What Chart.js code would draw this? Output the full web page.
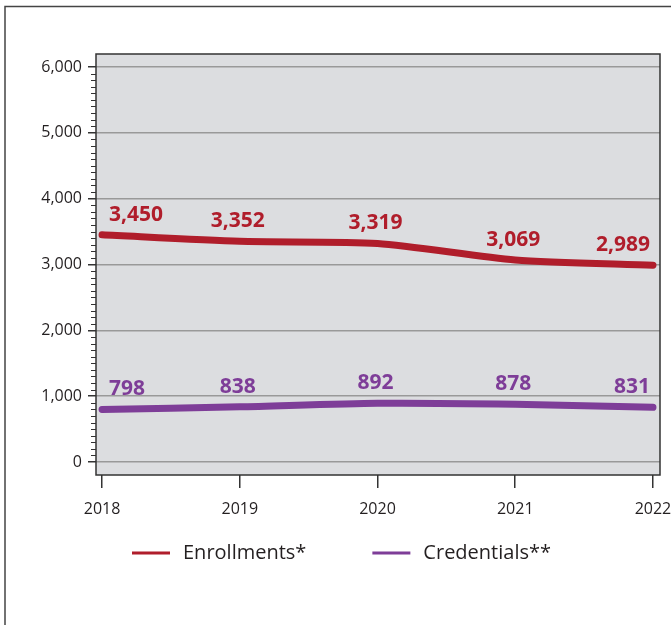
<!DOCTYPE html>
<html>
<head>
<meta charset="utf-8">
<script src="https://cdn.jsdelivr.net/npm/chart.js@4/dist/chart.umd.min.js"></script>
<style>
  html, body { margin: 0; padding: 0; background: #fff; }
  #wrap { position: relative; width: 671px; height: 625px; }
</style>
</head>
<body>
<div id="wrap"><canvas id="chart" width="671" height="625"></canvas></div>
<script>
// data
const years = [2018, 2019, 2020, 2021, 2022];
const enrollments = [3450, 3352, 3319, 3069, 2989];
const credentials = [798, 838, 892, 878, 831];
const yTicks = [0, 1000, 2000, 3000, 4000, 5000, 6000];
const seriesNames = ["Enrollments*", "Credentials**"];

const RED = "#b01d2b";
const PURPLE = "#7e3d98";
const FONT = "'Open Sans', 'Noto Sans', sans-serif";
const INK = "#231f20";

function toPoints(vals) {
  return years.map((y, i) => ({ x: y, y: vals[i] }));
}

// outer frame, plot background, plot border, minor ticks, value labels, legend
const decor = {
  id: "decor",
  beforeDraw(chart) {
    const ctx = chart.ctx;
    const a = chart.chartArea;
    ctx.save();
    ctx.strokeStyle = "#444";
    ctx.lineWidth = 1.5;
    ctx.beginPath();
    ctx.moveTo(5, 625);
    ctx.lineTo(5, 6.5);
    ctx.lineTo(671, 6.5);
    ctx.stroke();
    ctx.fillStyle = "#dcdde0";
    ctx.fillRect(a.left, a.top, a.right - a.left, a.bottom - a.top);
    ctx.restore();
  },
  afterDatasetsDraw(chart) {
    const ctx = chart.ctx;
    const a = chart.chartArea;
    const ys = chart.scales.y;
    ctx.save();
    // plot border
    ctx.strokeStyle = "#333";
    ctx.lineWidth = 1.5;
    ctx.strokeRect(a.left, a.top, a.right - a.left, a.bottom - a.top);
    // minor ticks
    ctx.lineWidth = 1;
    ctx.beginPath();
    for (let v = 100; v < 6000; v += 100) {
      if (v % 1000 === 0) continue;
      const py = Math.round(ys.getPixelForValue(v)) + 0.5;
      ctx.moveTo(a.left - 5, py);
      ctx.lineTo(a.left, py);
    }
    ctx.stroke();

    // value labels
    ctx.font = "bold 21px " + FONT;
    ctx.textBaseline = "middle";
    chart.data.datasets.forEach((ds, di) => {
      const meta = chart.getDatasetMeta(di);
      ctx.fillStyle = ds.borderColor;
      meta.data.forEach((pt, i) => {
        const txt = ds.data[i].y.toLocaleString("en-US");
        let x = pt.x - 2;
        ctx.textAlign = "center";
        if (i === 0) { ctx.textAlign = "left"; x = pt.x + 7; }
        if (i === meta.data.length - 1) { ctx.textAlign = "right"; x = pt.x - 3; }
        ctx.fillText(txt, x, pt.y - 20);
      });
    });

    // legend
    ctx.font = "20px " + FONT;
    ctx.textAlign = "left";
    let lx = 132;
    const ly = 553;
    chart.data.datasets.forEach((ds) => {
      ctx.strokeStyle = ds.borderColor;
      ctx.lineWidth = 3;
      ctx.beginPath();
      ctx.moveTo(lx, ly);
      ctx.lineTo(lx + 38, ly);
      ctx.stroke();
      ctx.fillStyle = INK;
      ctx.fillText(ds.label, lx + 51, ly);
      lx += 51 + ctx.measureText(ds.label).width + 66;
    });
    ctx.restore();
  }
};

new Chart(document.getElementById("chart"), {
  type: "line",
  data: {
    datasets: [
      {
        label: seriesNames[0],
        data: toPoints(enrollments),
        borderColor: RED,
        backgroundColor: RED,
        borderWidth: 7,
        borderCapStyle: "round",
        pointRadius: 0,
        tension: 0.25
      },
      {
        label: seriesNames[1],
        data: toPoints(credentials),
        borderColor: PURPLE,
        backgroundColor: PURPLE,
        borderWidth: 7,
        borderCapStyle: "round",
        pointRadius: 0,
        tension: 0.25
      }
    ]
  },
  options: {
    responsive: false,
    animation: false,
    layout: { padding: { left: 0, top: 54, right: 11, bottom: 110 } },
    plugins: { legend: { display: false }, tooltip: { enabled: false } },
    scales: {
      x: {
        type: "linear",
        min: 2017.956,
        max: 2022.051,
        afterBuildTicks(scale) { scale.ticks = years.map(v => ({ value: v })); },
        afterFit(scale) {
          scale.height = 40;
          scale.paddingLeft = 0;
          scale.paddingRight = 0;
        },
        grid: { drawOnChartArea: false, tickLength: 13, tickColor: "#333", lineWidth: 1.5 },
        border: { display: false },
        ticks: {
          padding: 12,
          maxRotation: 0,
          autoSkip: false,
          color: INK,
          font: { family: FONT, size: 16 },
          callback: v => String(v)
        }
      },
      y: {
        min: -197,
        max: 6197,
        afterBuildTicks(scale) { scale.ticks = yTicks.map(v => ({ value: v })); },
        afterFit(scale) { scale.width = 96; },
        grid: { color: "#999", lineWidth: 1.5, tickLength: 8, tickColor: "#333" },
        border: { display: false },
        ticks: {
          padding: 6,
          color: INK,
          font: { family: FONT, size: 16 },
          callback: v => v.toLocaleString("en-US")
        }
      }
    }
  },
  plugins: [decor]
});
</script>
</body>
</html>
